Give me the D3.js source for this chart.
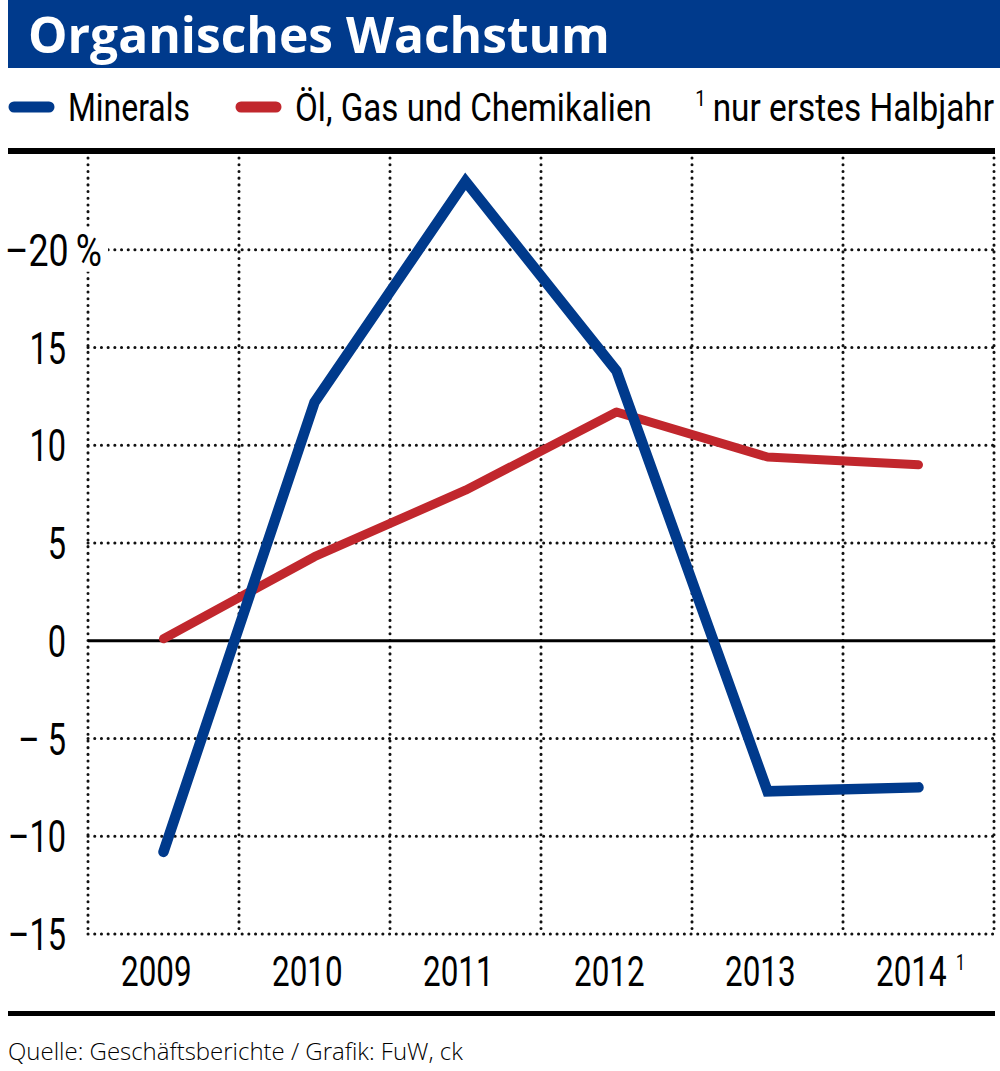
<!DOCTYPE html>
<html lang="de">
<head>
<meta charset="UTF-8">
<title>Organisches Wachstum</title>
<script src="https://d3js.org/d3.v7.min.js"></script>
<style>
  body { margin: 0; padding: 0; background: white; }
  svg { display: block; }
  .cond { font-family: 'Roboto', 'Noto Sans', sans-serif; }
</style>
</head>
<body>
<div id="chart"></div>
<script>
// data
const years = ["2009", "2010", "2011", "2012", "2013", "2014"];
const yearNotes = ["", "", "", "", "", "1"];
const minerals = [-10.8, 12.2, 23.5, 13.8, -7.7, -7.5];
const oilGas = [0.1, 4.3, 7.7, 11.7, 9.4, 9.0];
const yTicks = [20, 15, 10, 5, 0, -5, -10, -15];
const yTickLabels = ["\u201320\u2009%", "15", "10", "5", "0", "\u2013 5", "\u201310", "\u201315"];

const W = 1000, H = 1071;
const blue = "#003a8c", red = "#c1272d";

const svg = d3.select("#chart").append("svg")
    .attr("width", W).attr("height", H);

// squeeze text horizontally (the original uses a condensed face).
// f < 10 is a factor, otherwise a target width in px
function condense(sel, f) {
    sel.each(function() {
        const t = d3.select(this);
        const px = +t.attr("x") || 0, py = +t.attr("y") || 0;
        const k = f < 10 ? f : f / this.getComputedTextLength();
        t.attr("x", 0).attr("y", 0)
         .attr("transform", `translate(${px},${py}) scale(${k},1)`);
    });
}

// title bar
svg.append("rect").attr("x", 8).attr("y", 0).attr("width", W - 8).attr("height", 68).attr("fill", blue);
svg.append("text").attr("x", 28).attr("y", 53)
    .attr("font-family", "'Open Sans', 'Noto Sans', sans-serif")
    .attr("font-weight", 700).attr("font-size", 50).attr("fill", "white")
    .text("Organisches Wachstum").call(condense, 582);

// legend
const legend = svg.append("g").attr("class", "cond").attr("font-size", 39);
[[8, blue, "Minerals", 68, 122], [235, red, "Öl, Gas und Chemikalien", 295, 357]].forEach(([x, c, t, tx, tl]) => {
    legend.append("line").attr("x1", x + 6).attr("x2", x + 41).attr("y1", 107).attr("y2", 107)
        .attr("stroke", c).attr("stroke-width", 11).attr("stroke-linecap", "round");
    legend.append("text").attr("x", tx).attr("y", 121).text(t).call(condense, tl);
});
const note = legend.append("text").attr("x", 994).attr("y", 121).attr("text-anchor", "end");
note.append("tspan").attr("font-size", 22).attr("dy", -15).text("1");
note.append("tspan").attr("dx", 8).attr("dy", 15).text("nur erstes Halbjahr");
note.call(condense, 292);

// rules
svg.append("rect").attr("x", 8).attr("y", 148).attr("width", 987).attr("height", 6).attr("fill", "black");
svg.append("rect").attr("x", 8).attr("y", 1011).attr("width", 987).attr("height", 5).attr("fill", "black");

// scales
const x = d3.scaleBand().domain(years).range([88, 994]);
const y = d3.scaleLinear().domain([-15, 25]).range([934, 152]);

const grid = svg.append("g");
const dotted = sel => sel.attr("stroke", "#111").attr("stroke-width", 3)
    .attr("stroke-linecap", "round").attr("stroke-dasharray", "0.1,6.6");

// vertical grid
const xEdges = years.map(d => x(d)).concat([x.range()[1]]);
grid.selectAll("line.v").data(xEdges).join("line").attr("class", "v")
    .attr("x1", d => d).attr("x2", d => d)
    .attr("y1", 158).attr("y2", y(-15))
    .call(dotted);

// horizontal grid
grid.selectAll("line.h").data(yTicks.filter(d => d !== 0)).join("line").attr("class", "h")
    .attr("x1", 88).attr("x2", 994)
    .attr("y1", d => y(d)).attr("y2", d => y(d))
    .call(dotted);

// zero line
svg.append("line").attr("x1", 88).attr("x2", 995).attr("y1", y(0)).attr("y2", y(0))
    .attr("stroke", "black").attr("stroke-width", 3);

// y labels
const yl = svg.append("g").attr("class", "cond").attr("font-size", 44);
yTicks.forEach((v, i) => {
    if (i === 0) {
        yl.append("rect").attr("x", 0).attr("y", y(v) - 22).attr("width", 108).attr("height", 44).attr("fill", "white");
        yl.append("text").attr("x", 5).attr("y", y(v) + 16).text(yTickLabels[i]).call(condense, 97);
    } else {
        yl.append("text").attr("x", 66).attr("y", y(v) + 16).attr("text-anchor", "end")
            .text(yTickLabels[i]).call(condense, 0.74);
    }
});

// x labels (set a little left of the band centre, as in the original)
const xl = svg.append("g").attr("class", "cond").attr("font-size", 43);
years.forEach((d, i) => {
    const t = xl.append("text").attr("x", x(d) + x.bandwidth() / 2 - 42.5).attr("y", 986);
    t.append("tspan").text(d);
    if (yearNotes[i]) {
        t.append("tspan").attr("font-size", 22).attr("dx", 13).attr("dy", -16).text(yearNotes[i]);
    }
    t.call(condense, 0.73);
});

// lines
const line = d3.line().x((d, i) => x(years[i]) + x.bandwidth() / 2).y(d => y(d));
svg.append("path").datum(oilGas).attr("d", line)
    .attr("fill", "none").attr("stroke", red).attr("stroke-width", 9)
    .attr("stroke-linecap", "round").attr("stroke-linejoin", "round");
svg.append("path").datum(minerals).attr("d", line)
    .attr("fill", "none").attr("stroke", blue).attr("stroke-width", 10.5)
    .attr("stroke-linecap", "round").attr("stroke-linejoin", "miter");

// footer
svg.append("text").attr("x", 8).attr("y", 1060)
    .attr("font-family", "'Open Sans', 'Noto Sans', sans-serif").attr("font-weight", 300)
    .attr("font-size", 23).text("Quelle: Geschäftsberichte / Grafik: FuW, ck").call(condense, 455);
</script>
</body>
</html>
